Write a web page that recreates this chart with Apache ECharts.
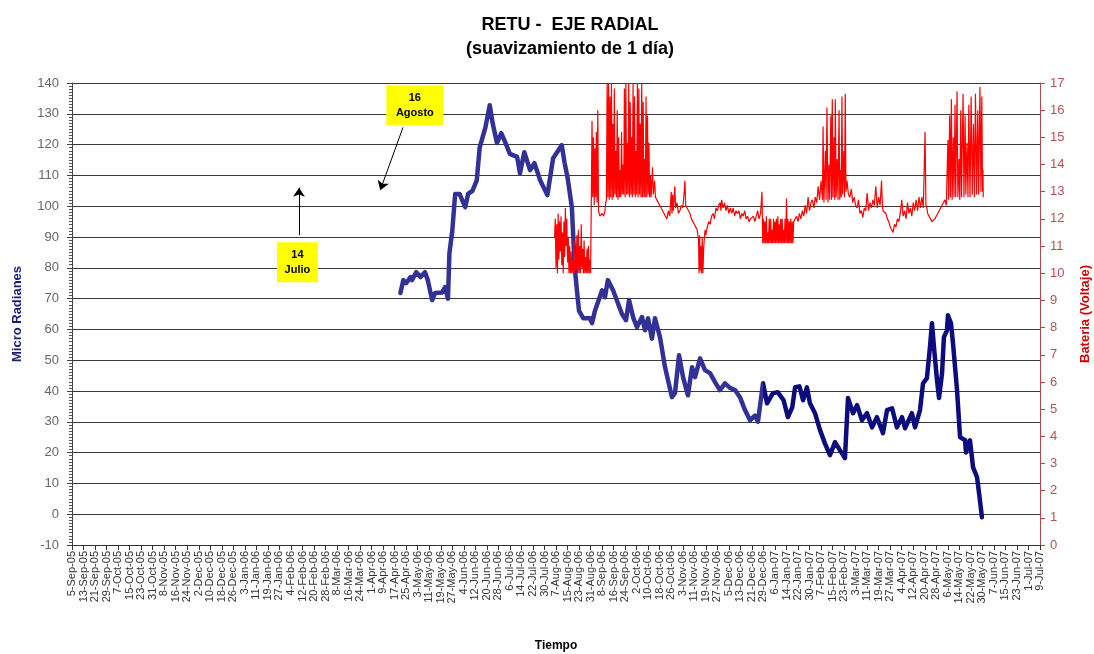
<!DOCTYPE html>
<html>
<head>
<meta charset="utf-8">
<script src="https://cdn.jsdelivr.net/npm/echarts@6/dist/echarts.min.js"></script>
<style>
html,body{margin:0;padding:0;background:#fff;}
#chart{width:1094px;height:654px;}
</style>
</head>
<body>
<div id="chart"></div>
<script>
// x values are days counted from 5-Sep-05
const tickLabels = ['5-Sep-05','13-Sep-05','21-Sep-05','29-Sep-05','7-Oct-05','15-Oct-05','23-Oct-05','31-Oct-05','8-Nov-05','16-Nov-05','24-Nov-05','2-Dec-05','10-Dec-05','18-Dec-05','26-Dec-05','3-Jan-06','11-Jan-06','19-Jan-06','27-Jan-06','4-Feb-06','12-Feb-06','20-Feb-06','28-Feb-06','8-Mar-06','16-Mar-06','24-Mar-06','1-Apr-06','9-Apr-06','17-Apr-06','25-Apr-06','3-May-06','11-May-06','19-May-06','27-May-06','4-Jun-06','12-Jun-06','20-Jun-06','28-Jun-06','6-Jul-06','14-Jul-06','22-Jul-06','30-Jul-06','7-Aug-06','15-Aug-06','23-Aug-06','31-Aug-06','8-Sep-06','16-Sep-06','24-Sep-06','2-Oct-06','10-Oct-06','18-Oct-06','26-Oct-06','3-Nov-06','11-Nov-06','19-Nov-06','27-Nov-06','5-Dec-06','13-Dec-06','21-Dec-06','29-Dec-06','6-Jan-07','14-Jan-07','22-Jan-07','30-Jan-07','7-Feb-07','15-Feb-07','23-Feb-07','3-Mar-07','11-Mar-07','19-Mar-07','27-Mar-07','4-Apr-07','12-Apr-07','20-Apr-07','28-Apr-07','6-May-07','14-May-07','22-May-07','30-May-07','7-Jun-07','15-Jun-07','23-Jun-07','1-Jul-07','9-Jul-07'];
const tickStep = 8;

const blueDay = [228,230,232,235,236,239,242,245,247,250,252,257,259,261,262,264,266,269,273,275,278,281,283,287,290,292,295,298,301,304,309,311,314,318,321,325,330,334,340,342,344,347,349,351,352,355,359.6,361,363,368,370,372,375.6,379,381.8,384.6,386.7,389.5,392.2,395.7,397.8,399.9,402.6,404.7,408.2,411.7,416.5,418.6,421.4,424.2,427.6,430.4,432.5,436,439.4,442.9,446.4,449.8,453.3,456.8,460.3,463.7,467.2,470.7,474.1,476.2,479.7,482.5,486.6,490,494,497,500,502,505,507.5,510.2,512.3,515.8,519.3,522.7,526.2,529.7,533.1,536.6,538.7,542.2,545,548.4,551.9,555.4,558.8,563,565.8,569.3,572.7,576.2,578.3,583.1,585.2,588.7,590.8,593.5,595.6,597,598.4,600.5,601.9,604,605.3,607.4,608.1,610.2,611.6,614.4,616.5,620,620.6,623.4,625.5,628.3,630.3,631.7];
const blueVal = [71.8,76,75,77,76,78.6,77,78.6,76,69.5,71.8,72,73.7,70,84.7,92,104,104,99.7,104,105,108.4,119,125.6,132.8,127,120.5,123.7,120.5,117,116,110.7,117.5,111.7,114,108.4,103.6,115.6,119.8,114,109.4,99.7,80,70.5,66,63.6,63.6,62,66,72.7,70.5,76,72.7,68.5,65,63,69.5,64,60.7,64,59.7,63.6,57,63.6,57.5,47.7,38,39.3,51.6,44.5,38.6,47.7,44.5,50.6,46.8,45.8,42.9,40.3,42.5,41,40.3,38,33.8,30.5,32,30,42.5,36,39.3,39.6,37,31.5,34.7,41.2,41.5,37,41.2,36,32.8,27.3,23,19.2,23.4,20.8,18.2,37.7,32.8,35.4,30.5,32.8,28.2,31.5,26.3,33.8,34.4,28.2,31.5,27.9,32.8,28.2,33.8,42.5,44.2,54.2,62,54.2,43.5,37.7,45.8,57.5,59.7,64.6,62,55.5,40.3,25,24,20,24,15.3,12,4.5,-1];

const redDay = [335,335.5,336,336.5,337,337.5,338,338.5,339,339.5,340,340.5,341,341.5,342,342.5,343,343.5,344,344.5,345,345.5,346,346.5,347,347.5,348,348.5,349,349.5,350,350.5,351,351.5,352,352.5,353,353.5,354,354.5,355,355.5,356,356.5,357,357.5,358,358.5,359,359.5,360,
360.5,361,361.5,362,362.5,363,363.5,364,364.5,365,365.5,366,366.5,367,368,369,370,370.5,371,
371.5,372,372.5,373,373.5,374,374.5,375,375.5,376,376.5,377,377.5,378,378.5,379,379.5,380,380.5,381,381.5,382,382.5,383,383.5,384,384.5,385,385.5,386,386.5,387,387.5,388,388.5,389,389.5,390,390.5,391,391.5,392,392.5,393,393.5,394,394.5,395,395.5,396,396.5,397,397.5,398,398.5,399,399.5,400,400.5,401,401.5,402,403,403.5,404.5,405,406,407,408,409,410,411,412,413,414,415,416,416.5,417,417.5,418.5,419,420,421,422,423,424,425,425.5,426,427,428,429,430,431,432,433,434,435,435.3,435.7,436,436.5,437,437.5,438,438.5,439,439.5,440,441,442,443,444,445,446,447,448,449,450,450.5,451,452,453,454,455,456,457,458,459,460,461,462,463,464,465,466,467,468,469,470,471,472,473,474,475,476,477,478,479,
479.5,480,480.5,481,481.5,482,482.5,483,483.5,484,484.5,485,485.5,486,486.5,487,487.5,488,488.5,489,489.5,490,490.5,491,491.5,492,492.5,493,493.5,494,494.5,495,495.5,496,496.5,497,497.5,498,498.5,499,499.5,500,500.5,501,
502,503,504,505,506,507,508,509,510,511,512,513,514,515,516,517,518,519,520,521,521.4,522,523,523.5,524.1,524.8,525.5,526,526.8,527.3,527.8,528.3,529,529.5,529.9,530.5,531.2,531.8,532.5,533,533.5,534,534.5,535,535.8,536.3,536.8,537.3,538,539,540,541,542,543,544,545,546,547,548,549,550,551,552,553,554,555,556,557,558,559,560,561,562,562.5,563,564,565,566,567,568,569,570,571,572,573,574,575,576,577,578,579,580,581,582,583,584,585,586,587,588,589,590,591,592.2,592.8,593.5,594,595,596,597,598,599,600,601,602,603,604,605,606,607,607.4,608.1,608.5,609.3,609.8,610.5,611,611.8,612.3,613,613.5,614.4,615,615.8,616.3,617,617.5,618.6,619.2,620,620.5,621.3,622,622.6,623.4,624.2,625,625.8,626.5,627.2,628,628.8,629.4,630.3,631,631.6,632.1,632.4,632.6];
const redVal = [11.3,12.0,10.2,11.8,10.0,12.2,10.5,11.9,10.8,12.1,10.3,11.5,10.0,11.9,10.6,12.4,11.0,12.0,10.4,11.3,10.0,11.0,10.0,10.8,10.0,10.5,10.0,11.2,10.0,10.7,10.1,11.4,10.0,11.6,10.0,11.0,10.0,11.8,10.2,10.9,10.0,11.2,10.0,10.6,10.0,10.9,10.0,11.0,10.0,10.5,10.0,
12.6,15.6,12.8,15.0,12.5,14.6,12.8,15.2,12.6,16.0,12.3,12.2,12.1,12.1,12.2,12.1,12.3,12.6,12.7,
17.0,12.8,17.0,12.7,16.5,12.8,17.0,12.7,15.5,12.8,16.8,12.9,14.5,12.8,16.0,12.7,15.0,12.8,13.8,12.8,15.2,12.9,14.0,12.9,16.8,12.8,17.0,12.9,14.8,12.9,17.0,12.8,16.3,12.9,15.0,12.8,17.0,12.9,16.5,12.8,14.5,12.9,17.0,12.8,16.8,12.9,15.5,12.8,17.0,12.8,16.3,12.8,14.2,12.8,16.5,12.8,15.8,12.9,14.8,12.8,13.6,12.8,13.9,12.9,13.4,12.8,12.7,12.6,12.6,12.4,12.3,12.2,12.1,12.0,12.3,12.1,13.0,12.2,12.9,12.3,13.2,12.4,12.6,12.2,12.3,12.5,12.4,13.0,13.4,12.5,12.4,12.3,12.2,12.0,11.9,11.8,11.7,11.6,11.2,10.0,11.4,10.1,11.0,10.0,11.3,10.0,10.9,11.3,11.6,11.4,11.7,11.9,11.8,12.1,12.2,12.0,12.4,12.3,12.5,12.6,12.3,12.7,12.4,12.6,12.3,12.5,12.2,12.4,12.2,12.4,12.1,12.3,12.2,12.3,12.0,12.2,12.1,12.3,12.0,12.1,11.9,12.0,12.0,12.1,11.9,12.1,12.3,12.0,12.2,13.0,
11.1,12.0,11.1,11.9,11.1,12.1,11.1,11.5,11.1,12.0,11.1,12.0,11.1,11.6,11.1,12.0,11.1,11.9,11.1,12.0,11.1,12.1,11.1,11.8,11.1,12.0,11.1,12.0,11.1,11.6,11.1,12.0,11.1,12.75,11.1,12.0,11.1,11.9,11.1,12.0,11.1,11.9,11.1,11.9,
12.0,12.1,11.9,12.2,12.0,12.3,12.1,12.5,12.2,12.8,12.3,12.6,12.7,12.4,12.8,12.6,13.2,12.7,13.4,12.7,15.4,12.6,14.5,12.7,16.1,12.6,14.0,12.7,15.8,12.7,16.4,12.8,15.0,12.7,16.4,12.8,14.2,12.7,16.0,12.7,13.8,12.8,16.5,12.9,14.5,12.8,16.6,13.0,13.4,12.9,12.8,13.1,12.6,12.8,12.5,12.4,12.7,12.2,12.3,12.05,12.4,12.3,12.95,12.3,12.6,12.4,12.7,12.5,13.2,12.4,12.8,12.5,13.4,12.6,12.3,12.3,12.2,12.0,11.9,11.7,11.6,11.5,11.8,11.7,12.0,11.9,12.2,12.7,12.1,12.3,12.0,12.6,12.2,12.4,12.1,12.6,12.3,12.7,12.3,12.8,12.4,12.8,12.4,15.2,12.5,12.4,12.2,12.1,12.0,11.9,11.85,12.0,12.1,12.2,12.3,12.4,12.5,12.6,12.7,12.5,13.5,14.9,12.7,15.8,12.8,16.4,12.7,15.0,12.8,16.2,12.8,16.7,12.8,14.2,12.7,16.0,12.8,16.6,12.8,15.8,12.9,14.8,12.8,16.2,12.8,16.5,12.9,15.5,12.8,16.6,12.9,16.0,12.9,16.85,13.0,16.5,13.0,13.8,12.8];

// the blue line turns darker from this day on
const darkFromDay = 480;

// annotations (text boxes and arrows), in data coordinates [day, micro radians]
const noteBoxes = [
  {text: '16\nAgosto', day: 238, val: 132.8, w: 57, h: 40},
  {text: '14\nJulio', day: 156.5, val: 81.8, w: 41, h: 40}
];
const noteArrows = [
  [[157.6, 90.6], [157.6, 106.0]],
  [[229.8, 125.6], [214.0, 105.2]]
];

const blueData = blueDay.map((d, i) => [d, blueVal[i]]);
const redData = redDay.map((d, i) => [d, redVal[i]]);

const chart = echarts.init(document.getElementById('chart'), null, {renderer: 'canvas'});
const FONT = 'Liberation Sans, Arial, sans-serif';
chart.setOption({
  animation: false,
  backgroundColor: '#ffffff',
  title: [
    {text: 'RETU -  EJE RADIAL', left: 565, top: 11, textAlign: 'center',
     textStyle: {fontFamily: FONT, fontSize: 18, fontWeight: 'bold', color: '#000'}},
    {text: '(suavizamiento de 1 día)', left: 565, top: 35, textAlign: 'center',
     textStyle: {fontFamily: FONT, fontSize: 18, fontWeight: 'bold', color: '#000'}}
  ],
  grid: {left: 72, right: 54, top: 83, bottom: 109, containLabel: false, outerBoundsMode: 'none'},
  xAxis: {
    type: 'value', min: 0, max: 672, interval: tickStep,
    name: 'Tiempo', nameLocation: 'middle', nameGap: 95,
    nameTextStyle: {fontFamily: FONT, fontSize: 12, fontWeight: 'bold', color: '#000'},
    axisLine: {show: true, onZero: false, lineStyle: {color: '#333', width: 1}},
    axisTick: {show: true, length: 5, lineStyle: {color: '#333'}},
    axisLabel: {rotate: 90, fontFamily: FONT, fontSize: 11, color: '#333', margin: 6,
      formatter: v => tickLabels[Math.round(v / tickStep)] || ''},
    splitLine: {show: false}
  },
  yAxis: [
    {
      type: 'value', min: -10, max: 140, interval: 10, position: 'left',
      name: 'Micro Radianes', nameLocation: 'middle', nameGap: 48,
      nameTextStyle: {fontFamily: FONT, fontSize: 13, fontWeight: 'bold', color: '#1c1c80'},
      axisLine: {show: true, lineStyle: {color: '#444'}},
      axisTick: {show: true, length: 5, lineStyle: {color: '#444'}},
      minorTick: {show: true, splitNumber: 10, length: 3, lineStyle: {color: '#555'}},
      axisLabel: {fontFamily: FONT, fontSize: 13, color: '#666', margin: 13},
      splitLine: {show: true, lineStyle: {color: '#3a3a3a', width: 1}}
    },
    {
      type: 'value', min: 0, max: 17, interval: 1, position: 'right',
      name: 'Bateria (Voltaje)', nameLocation: 'middle', nameGap: 39, nameRotate: 90,
      nameTextStyle: {fontFamily: FONT, fontSize: 13, fontWeight: 'bold', color: '#d40000'},
      axisLine: {show: true, lineStyle: {color: '#b84848'}},
      axisTick: {show: true, length: 5, lineStyle: {color: '#b84848'}},
      axisLabel: {fontFamily: FONT, fontSize: 13, color: '#b85050', margin: 10},
      splitLine: {show: false}
    }
  ],
  series: [
    {
      name: 'Micro Radianes', type: 'line', yAxisIndex: 0, data: blueData,
      showSymbol: false, symbol: 'none', smooth: false, z: 3,
      lineStyle: {width: 4.5, color: '#323296', join: 'round', cap: 'round'}
    },
    {
      name: 'Bateria', type: 'line', yAxisIndex: 1, data: redData,
      showSymbol: false, symbol: 'none', smooth: false, z: 4,
      lineStyle: {width: 1.2, color: '#ff0000'}
    },
    {
      name: 'notes', type: 'line', yAxisIndex: 0, data: [[0, null]], z: 6,
      showSymbol: false, symbol: 'none',
      markPoint: {
        symbol: 'rect', silent: true, animation: false,
        data: noteBoxes.map(b => ({
          coord: [b.day, b.val], symbolSize: [b.w, b.h],
          itemStyle: {color: '#ffff00'},
          label: {show: true, position: 'inside', formatter: b.text, color: '#000',
            fontFamily: FONT, fontSize: 11, fontWeight: 'bold', lineHeight: 15}
        }))
      },
      markLine: {
        silent: true, animation: false, symbol: ['none', 'arrow'], symbolSize: 9,
        lineStyle: {color: '#000', width: 1, type: 'solid'},
        label: {show: false},
        data: noteArrows.map(a => [{coord: a[0]}, {coord: a[1]}])
      }
    }
  ]
});

// darker blue after darkFromDay, via a horizontal gradient in pixel space
const splitPx = chart.convertToPixel({xAxisIndex: 0}, darkFromDay);
const w = chart.getWidth();
const f = splitPx / w;
chart.setOption({
  series: [{
    lineStyle: {
      color: new echarts.graphic.LinearGradient(0, 0, w, 0, [
        {offset: 0, color: '#323296'}, {offset: f, color: '#323296'},
        {offset: f, color: '#0c0c7e'}, {offset: 1, color: '#0c0c7e'}
      ], true)
    }
  }]
});
</script>
</body>
</html>
